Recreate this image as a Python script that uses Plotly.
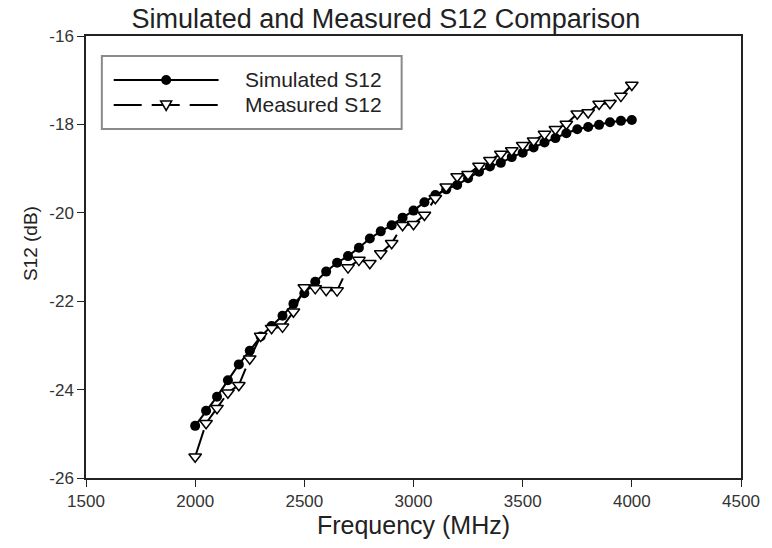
import plotly.graph_objects as go

freq = [2000, 2050, 2100, 2150, 2200, 2250, 2300, 2350, 2400, 2450,
        2500, 2550, 2600, 2650, 2700, 2750, 2800, 2850, 2900, 2950,
        3000, 3050, 3100, 3150, 3200, 3250, 3300, 3350, 3400, 3450,
        3500, 3550, 3600, 3650, 3700, 3750, 3800, 3850, 3900, 3950, 4000]

simulated = [-24.82, -24.48, -24.16, -23.79, -23.43, -23.12, -22.80, -22.56, -22.33, -22.06,
             -21.82, -21.56, -21.33, -21.13, -20.98, -20.79, -20.58, -20.42, -20.28, -20.11,
             -19.95, -19.76, -19.60, -19.47, -19.37, -19.22, -19.07, -18.95, -18.87, -18.74,
             -18.64, -18.52, -18.41, -18.31, -18.20, -18.11, -18.06, -18.01, -17.95, -17.92, -17.90]

measured = [-25.52, -24.76, -24.42, -24.07, -23.90, -23.30, -22.79, -22.61, -22.58, -22.24,
            -21.69, -21.71, -21.75, -21.76, -21.24, -21.07, -21.14, -20.92, -20.69, -20.28,
            -20.26, -20.05, -19.67, -19.41, -19.18, -19.13, -18.94, -18.81, -18.67, -18.59,
            -18.47, -18.37, -18.22, -18.11, -17.99, -17.76, -17.73, -17.54, -17.52, -17.36, -17.11]

x_ticks = [1500, 2000, 2500, 3000, 3500, 4000, 4500]
y_ticks = [-26, -24, -22, -20, -18, -16]
y_tick_text = ["-26", "-24", "-22", "-20", "-18", "-16"]

series_names = ["Simulated S12", "Measured S12"]

FONT = "Liberation Sans, Arial, sans-serif"
DASH = "28px,10px"

fig = go.Figure()
fig.add_trace(go.Scatter(
    x=freq, y=simulated, name=series_names[0], mode="lines+markers",
    line=dict(color="black", width=2),
    marker=dict(symbol="circle", size=10, color="black"),
    showlegend=False,
))
fig.add_trace(go.Scatter(
    x=freq, y=measured, name=series_names[1], mode="lines+markers",
    line=dict(color="black", width=2, dash=DASH),
    marker=dict(symbol="triangle-down", size=11, color="white",
                line=dict(color="black", width=1.5)),
    showlegend=False,
))

axis_common = dict(
    showgrid=False, zeroline=False, showline=True, linecolor="#222", linewidth=1.5,
    mirror=True, ticks="outside", ticklen=7, tickwidth=1.2, tickcolor="#222",
    tickfont=dict(family=FONT, size=17, color="#333"),
)

fig.update_xaxes(range=[1500, 4500], tickvals=x_ticks,
                 title=dict(text="Frequency (MHz)", font=dict(family=FONT, size=25, color="#222"), standoff=3),
                 **axis_common)
fig.update_yaxes(range=[-26, -16], tickvals=y_ticks, ticktext=y_tick_text,
                 **axis_common)

# ---- custom legend (layout styling, paper coordinates) ----
lg_x0, lg_x1, lg_y0, lg_y1 = 0.0242, 0.4819, 0.7896, 0.9548
ln_x0, ln_x1, mk_x, txt_x = 0.0423, 0.2024, 0.1224, 0.2402
row_y = [0.9005, 0.8439]

shapes = [
    dict(type="rect", xref="paper", yref="paper", x0=lg_x0, x1=lg_x1, y0=lg_y0, y1=lg_y1,
         line=dict(color="#8a8a8a", width=2), fillcolor="white", layer="above"),
    dict(type="line", xref="paper", yref="paper", x0=ln_x0, x1=ln_x1, y0=row_y[0], y1=row_y[0],
         line=dict(color="black", width=2), layer="above"),
    dict(type="line", xref="paper", yref="paper", x0=ln_x0, x1=ln_x1, y0=row_y[1], y1=row_y[1],
         line=dict(color="black", width=2, dash=DASH), layer="above"),
    dict(type="circle", xref="paper", yref="paper", xsizemode="pixel", ysizemode="pixel",
         xanchor=mk_x, yanchor=row_y[0], x0=-5, x1=5, y0=-5, y1=5,
         fillcolor="black", line=dict(color="black", width=0), layer="above"),
    dict(type="path", xref="paper", yref="paper", xsizemode="pixel", ysizemode="pixel",
         xanchor=mk_x, yanchor=row_y[1], path="M-5.5,4 L5.5,4 L0,-5.5 Z",
         fillcolor="white", line=dict(color="black", width=1.5), layer="above"),
]

annotations = [
    dict(text=series_names[0], xref="paper", yref="paper", x=txt_x, y=row_y[0],
         xanchor="left", yanchor="middle", showarrow=False,
         font=dict(family=FONT, size=21, color="#222")),
    dict(text=series_names[1], xref="paper", yref="paper", x=txt_x, y=row_y[1],
         xanchor="left", yanchor="middle", showarrow=False,
         font=dict(family=FONT, size=21, color="#222")),
    dict(text="S12 (dB)", xref="paper", yref="paper", x=-0.085, y=0.53,
         xanchor="center", yanchor="middle", textangle=-90, showarrow=False,
         font=dict(family=FONT, size=19, color="#222")),
]

fig.update_layout(
    width=772, height=548,
    margin=dict(l=86, r=24, t=36, b=70),
    paper_bgcolor="white", plot_bgcolor="white",
    title=dict(text="Simulated and Measured S12 Comparison", x=0.5, xanchor="center",
               y=0.966, yanchor="middle",
               font=dict(family=FONT, size=27, color="#222")),
    shapes=shapes,
    annotations=annotations,
    showlegend=False,
)

fig.write_html("out.html")
